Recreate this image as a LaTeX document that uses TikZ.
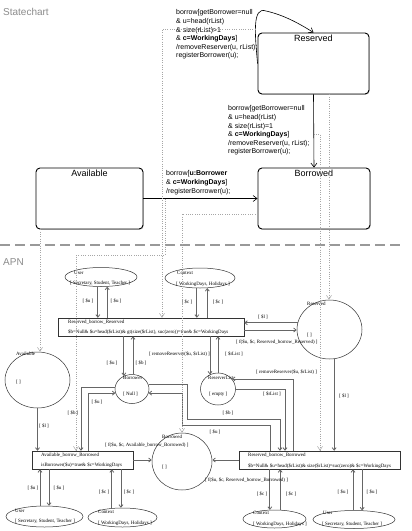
\documentclass[tikz,border=0pt]{standalone}
\usepackage{fontspec}
\setmainfont{Liberation Sans}
\newfontfamily\apnfont{Liberation Serif}
\usetikzlibrary{arrows.meta,shapes.geometric,shadows}
\begin{document}
\begin{tikzpicture}[x=1pt,y=-1pt,
  heading/.style={font=\fontsize{10}{12}\selectfont, text=black!45, inner sep=0, anchor=west},
  sepline/.style={draw=black!40, line width=1.2pt, dash pattern=on 10pt off 5pt},
  stbox/.style={draw=black, line width=0.9pt, rounded corners=4pt, fill=white, inner sep=0,
    drop shadow={shadow xshift=0.8pt, shadow yshift=-0.8pt, opacity=0.35}},
  sttitle/.style={font=\fontsize{9}{10}\selectfont, inner sep=0, anchor=north, yshift=-2.5pt},
  stlbl/.style={font=\fontsize{7}{8.6}\selectfont, align=left, anchor=north west, inner sep=0},
  starrow/.style={draw=black, line width=0.6pt, -{Straight Barb[length=4pt,width=6pt]}},
  trace/.style={draw=black!35, line width=0.5pt, dash pattern=on 0.7pt off 1.6pt,
    -{Straight Barb[length=4pt,width=5pt]}},
  place/.style={ellipse, draw=black!80, line width=0.5pt, inner sep=0},
  trans/.style={rectangle, draw=black!80, line width=0.5pt, inner sep=0},
  arc/.style={draw=black!60, line width=0.8pt, -{Straight Barb[length=2.5pt,width=4pt]}},
  apn/.style={font=\apnfont\fontsize{4.95}{6}\selectfont, inner sep=0},
  apnw/.style={apn, anchor=west},
  apne/.style={apn, anchor=east},
]
\useasboundingbox (0,0) rectangle (412,531);
\fill[white] (0,0) rectangle (412,531);

% ---------------- headings
\node[heading] (hsc) at (3,12) {Statechart};
\node[heading] (hapn) at (3,262) {APN};
\draw[sepline] (0,245) -- (400,245);

% ---------------- statechart
\node[stbox, minimum width=111pt, minimum height=61pt, label={[sttitle]north:Reserved}] (res) at (313.5,63.5) {};
\node[stbox, minimum width=112pt, minimum height=61pt, label={[sttitle]north:Borrowed}] (borr) at (314,198.5) {};
\node[stbox, minimum width=107pt, minimum height=61pt, label={[sttitle]north:Available}] (avail) at (89.5,198.5) {};

\draw[starrow] (res.west) .. controls (255,35) and (252,6) .. (266,11) coordinate[pos=0.43] (loopPt)
   .. controls (284,15) and (300,24) .. (res.north);
\draw[starrow] (res.south) -- (borr.north) coordinate[pos=0.54] (rbPt);
\draw[starrow] (avail.east) -- (borr.west) coordinate[pos=0.19] (abPt);

\node[stlbl] (lblLoop) at (176,9.7) {borrow[getBorrower=null\\
\& u=head(rList)\\
\& size(rList)>1\\
\& \textbf{c=WorkingDays}]\\
/removeReserver(u, rList);\\
registerBorrower(u);};
\node[stlbl] (lblRB) at (228,105.7) {borrow[getBorrower=null\\
\& u=head(rList)\\
\& size(rList)=1\\
\& \textbf{c=WorkingDays}]\\
/removeReserver(u, rList);\\
registerBorrower(u);};
\node[stlbl] (lblAB) at (166,170.7) {borrow[\textbf{u:Borrower}\\
\& \textbf{c=WorkingDays}]\\
/registerBorrower(u);};

% ---------------- APN places and transitions
\node[place, minimum width=72pt, minimum height=19pt] (userT) at (101,277) {};
\node[place, minimum width=70pt, minimum height=20pt] (ctxT) at (200,278) {};
\node[trans, minimum width=186pt, minimum height=18pt] (trRR) at (151,327) {};
\node[place, minimum width=65pt, minimum height=59pt] (placeRes) at (329.5,329.5) {};
\node[place, minimum width=34pt, minimum height=29pt] (borrower) at (132,389) {};
\node[place, minimum width=35pt, minimum height=32pt] (rlist) at (218,389) {};
\node[place, minimum width=65pt, minimum height=56pt] (placeAvail) at (37.5,380) {};
\node[trans, minimum width=101pt, minimum height=18pt] (trAB) at (82.5,460) {};
\node[place, minimum width=60pt, minimum height=57pt] (placeBorrowed) at (182,461.5) {};
\node[trans, minimum width=161pt, minimum height=18pt] (trRB) at (319.5,460) {};
\node[place, minimum width=77pt, minimum height=21pt] (userBL) at (44.5,516.5) {};
\node[place, minimum width=69pt, minimum height=19pt] (ctxBL) at (122.5,517.5) {};
\node[place, minimum width=63pt, minimum height=18pt] (ctxBR) at (274.5,519) {};
\node[place, minimum width=82pt, minimum height=18pt] (userBR) at (354,519.5) {};

% names and markings
\node[apnw] (nUserT) at (74,273) {User};
\node[apnw] (mUserT) at (70,283) {[ Secretary, Student, Teacher ]};
\node[apnw] (nCtxT) at (177,273) {Context};
\node[apnw] (mCtxT) at (176,284) {[ WorkingDays, Holidays ]};
\node[apnw] (nTrRR) at (68,322) {Reserved\_borrow\_Reserved};
\node[apnw] (gTrRR) at (68,332) {\$b=Null\& \$u=head(\$rList)\& gt(size(\$rList), suc(zero))=true\& \$c=WorkingDays};
\node[apnw] (nRes) at (307,304) {Reserved};
\node[apnw] (mRes) at (307,335) {[ ]};
\node[apnw] (nAvl) at (16,354) {Available};
\node[apnw] (mAvl) at (16,382) {[ ]};
\node[apnw] (nBwr) at (123,378) {Borrower};
\node[apnw] (mBwr) at (123,394) {[ Null ]};
\node[apnw] (nRL) at (208,378) {ReserverList};
\node[apnw] (mRL) at (209,394) {[ empty ]};
\node[apnw] (nTrAB) at (41,455) {Available\_borrow\_Borrowed};
\node[apnw] (gTrAB) at (41,465) {isBorrower(\$u)=true\& \$c=WorkingDays};
\node[apnw] (nBwd) at (162,437) {Borrowed};
\node[apnw] (mBwd) at (162,467) {[ ]};
\node[apnw] (nTrRB) at (248,455) {Reserved\_borrow\_Borrowed};
\node[apnw] (gTrRB) at (248,466) {\$b=Null\& \$u=head(\$rList)\& size(\$rList)=suc(zero)\& \$c=WorkingDays};
\node[apnw] (nUBL) at (15,511) {User};
\node[apnw] (mUBL) at (15,521) {[ Secretary, Student, Teacher ]};
\node[apnw] (nCBL) at (98,512) {Context};
\node[apnw] (mCBL) at (98,523) {[ WorkingDays, Holidays ]};
\node[apnw] (nCBR) at (253,513) {Context};
\node[apnw] (mCBR) at (253,524) {[ WorkingDays, Holidays ]};
\node[apnw] (nUBR) at (323,513) {User};
\node[apnw] (mUBR) at (322,524) {[ Secretary, Student, Teacher ]};

% ---------------- APN arcs
\draw[arc] (userT.252) -- (userT.252 |- trRR.north);
\draw[arc] (userT.303 |- trRR.north) -- (userT.303);
\draw[arc] (ctxT.253) -- (ctxT.253 |- trRR.north);
\draw[arc] (ctxT.306 |- trRR.north) -- (ctxT.306);
\draw[arc] (placeRes.168) -- (placeRes.168 -| trRR.east);
\draw[arc] ([yshift=-3pt]trRR.east) -- ([yshift=-3pt]trRR.east -| placeRes.west);
\draw[arc] (borrower.122 |- trRR.south) -- (borrower.122);
\draw[arc] (borrower.86) -- (borrower.86 |- trRR.south);
\draw[arc] (rlist.119 |- trRR.south) -- (rlist.119);
\draw[arc] (rlist.north) -- (rlist.north |- trRR.south);
\draw[arc] (placeAvail.south) -- (placeAvail.south |- trAB.north);
\draw[arc] (borrower.173) -| ([xshift=-1.5pt]trAB.north);
\draw[arc] ([xshift=5.5pt]trAB.north) |- (borrower.194);
\draw[arc] (borrower.14) -| (187,419) -| ([xshift=-39.5pt]trRB.north);
\draw[arc] ([xshift=-49.5pt]trRB.north) |- (182,425) |- (borrower.346);
\draw[arc] ([xshift=-26.5pt]trRB.north) |- (rlist.36);
\draw[arc] (rlist.east) -| ([xshift=-34.5pt]trRB.north);
\draw[arc] (placeRes.279) -- (placeRes.279 |- trRB.north);
\draw[arc] (trAB.east) -- (trAB.east -| placeBorrowed.west);
\draw[arc] (trRB.west) -- (trRB.west -| placeBorrowed.east);
\draw[arc] (userBL.113) -- (userBL.113 |- trAB.south);
\draw[arc] (userBL.67 |- trAB.south) -- (userBL.67);
\draw[arc] (ctxBL.139) -- (ctxBL.139 |- trAB.south);
\draw[arc] (ctxBL.99 |- trAB.south) -- (ctxBL.99);
\draw[arc] (ctxBR.117 |- trRB.south) -- (ctxBR.117);
\draw[arc] (ctxBR.58) -- (ctxBR.58 |- trRB.south);
\draw[arc] (userBR.96) -- (userBR.96 |- trRB.south);
\draw[arc] (userBR.48 |- trRB.south) -- (userBR.48);

% arc labels
\node[apn] (a1) at (88,301) {[ \$u ]};
\node[apn] (a2) at (116,301) {[ \$u ]};
\node[apn] (a3) at (187,302) {[ \$c ]};
\node[apn] (a4) at (218,302) {[ \$c ]};
\node[apn] (a5) at (263,317) {[ \$l ]};
\node[apnw] (a6) at (236,342) {[ f(\$u, \$c, Reserved\_borrow\_Reserved) ]};
\node[apne] (a7) at (210,354) {[ removeReserver(\$u, \$rList) ]};
\node[apnw] (a8) at (225,354) {[ \$rList ]};
\node[apn] (a9) at (112,363) {[ \$u ]};
\node[apn] (a10) at (141,363) {[ \$b ]};
\node[apnw] (a11) at (256,372) {[ removeReserver(\$u, \$rList) ]};
\node[apn] (a12) at (272,394) {[ \$rList ]};
\node[apn] (a13) at (344,396) {[ \$l ]};
\node[apn] (a14) at (73,413) {[ \$b ]};
\node[apn] (a15) at (97,402) {[ \$u ]};
\node[apn] (a16) at (228,413) {[ \$b ]};
\node[apn] (a17) at (215,432) {[ \$u ]};
\node[apn] (a18) at (44,426) {[ \$l ]};
\node[apnw] (a19) at (105,445) {[ f(\$u, \$c, Available\_borrow\_Borrowed) ]};
\node[apnw] (a20) at (205,480) {[ f(\$u, \$c, Reserved\_borrow\_Borrowed) ]};
\node[apn] (a21) at (33,488) {[ \$u ]};
\node[apn] (a22) at (59,488) {[ \$u ]};
\node[apn] (a23) at (104,492) {[ \$c ]};
\node[apn] (a24) at (129,492) {[ \$c ]};
\node[apn] (a25) at (262,494) {[ \$c ]};
\node[apn] (a26) at (291,494) {[ \$c ]};
\node[apn] (a27) at (343,492) {[ \$u ]};
\node[apn] (a28) at (372,492) {[ \$u ]};

% ---------------- traceability (dotted)
\draw[trace] (loopPt) -| ([xshift=11pt]trRR.north);
\draw[trace] (abPt) |- (76,255) -| ([xshift=-6.5pt]trAB.north);
\draw[trace] ([xshift=-49.5pt]avail.south) -- ([xshift=-49.5pt]avail.south |- placeAvail.north);
\draw[trace] ([yshift=-15.5pt]borr.west) -| (placeBorrowed.north);
\draw[trace] ([xshift=15.5pt]res.south) -- ([xshift=15.5pt]res.south |- placeRes.north);
\draw[trace] (rbPt) -| ([xshift=0.5pt]trRB.north);
\end{tikzpicture}
\end{document}
